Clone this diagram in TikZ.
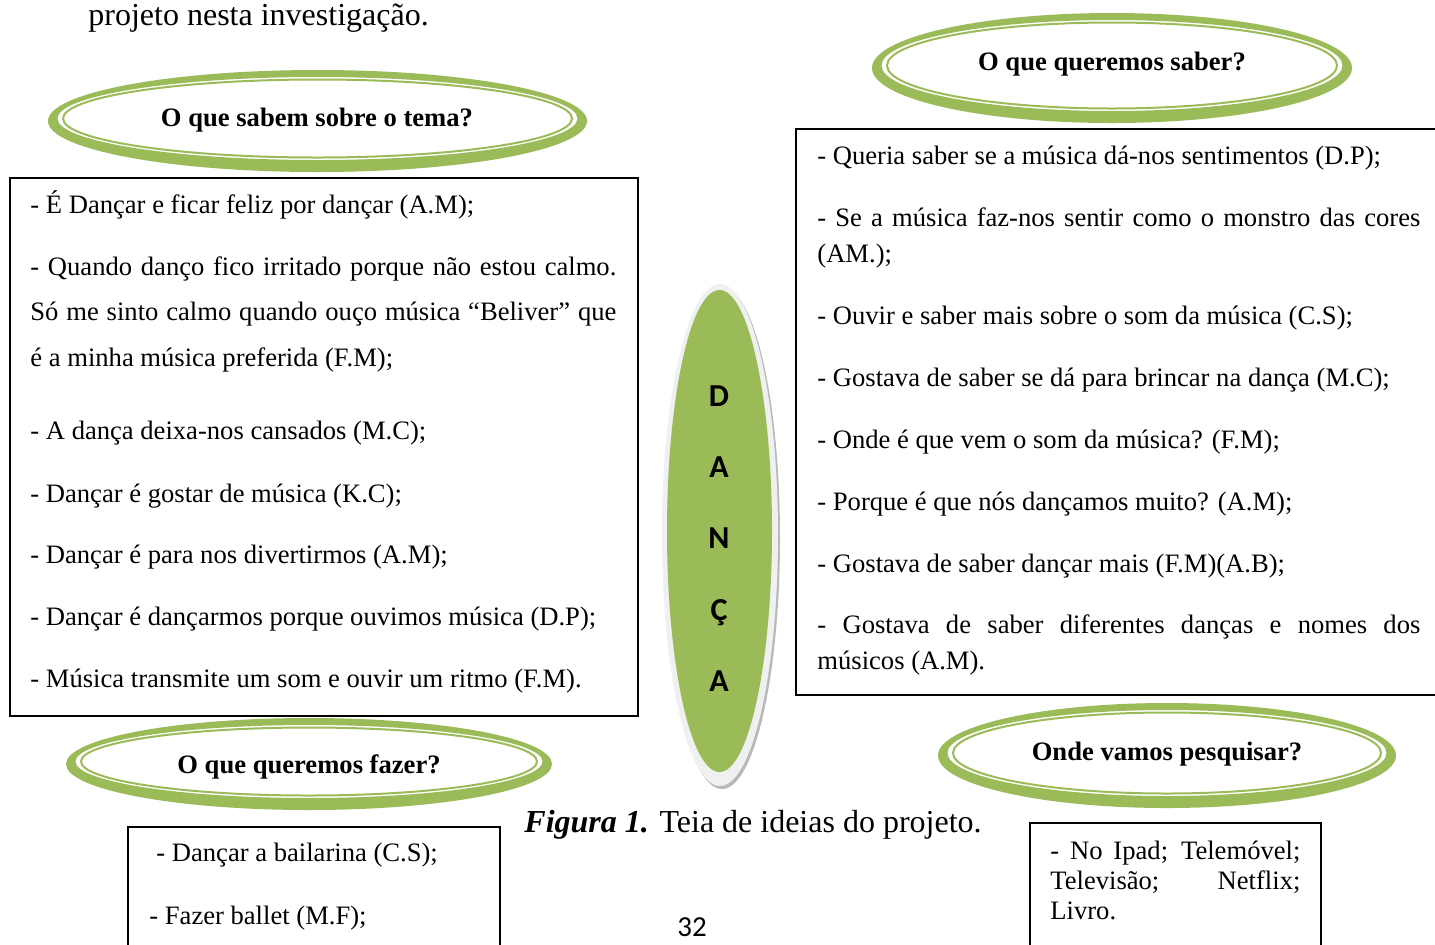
\documentclass[tikz,border=0pt]{standalone}
\usepackage{fontspec}
\setmainfont{Liberation Serif}
\newfontfamily\calib{Carlito}
\definecolor{ringgreen}{HTML}{9BBB59}
\definecolor{ringgray}{HTML}{F0F0F0}
\definecolor{shadowgray}{HTML}{B8B8B8}
\begin{document}
\begin{tikzpicture}[x=0.5pt,y=-0.5pt,
  txt/.style={inner sep=0pt, anchor=base west, font=\fontsize{13.3}{15}\selectfont},
  ttl/.style={inner sep=0pt, anchor=base, font=\fontsize{13.3}{15}\selectfont\bfseries},
  big/.style={inner sep=0pt, anchor=base west, font=\fontsize{16}{18}\selectfont},
  letter/.style={inner sep=0pt, anchor=base, font=\fontsize{16}{18}\selectfont\calib\bfseries},
  boxline/.style={draw=black, line width=1pt},
  ringband/.style={fill=ringgreen, even odd rule},
  ringthin/.style={draw=ringgreen, line width=1pt},
]
\useasboundingbox (0,0) rectangle (1435,944);
\fill[white] (0,0) rectangle (1435,944);

% top line of running text
\node[big] (top) at (88,25) {projeto nesta investigação.};

% ---- ellipse 1
\path[ringband] (317.5,121) ellipse [x radius=269.5, y radius=51]
                (317.5,118.5) ellipse [x radius=260, y radius=41.5];
\draw[ringthin] (317.5,118.5) ellipse [x radius=254.5, y radius=39];
\node[ttl] (t1) at (317,126) {O que sabem sobre o tema?};

% ---- ellipse 2
\path[ringband] (1112,68) ellipse [x radius=240, y radius=55]
                (1112,65.5) ellipse [x radius=230.5, y radius=45.5];
\draw[ringthin] (1112,65.5) ellipse [x radius=225, y radius=43];
\node[ttl] (t2) at (1112,70) {O que queremos saber?};

% ---- ellipse 3
\path[ringband] (309,764) ellipse [x radius=243, y radius=46]
                (309,761.5) ellipse [x radius=233.5, y radius=36.5];
\draw[ringthin] (309,761.5) ellipse [x radius=228, y radius=34];
\node[ttl] (t3) at (309,773) {O que queremos fazer?};

% ---- ellipse 4
\path[ringband] (1167,755.5) ellipse [x radius=229, y radius=52.5]
                (1167,753) ellipse [x radius=219.5, y radius=43];
\draw[ringthin] (1167,753) ellipse [x radius=214, y radius=40.5];
\node[ttl] (t4) at (1167,760) {Onde vamos pesquisar?};

% ---- centre ellipse
\fill[shadowgray] (722,538) ellipse [x radius=58, y radius=251];
\fill[ringgray] (720,535) ellipse [x radius=58, y radius=251];
\fill[ringgreen] (719.5,531) ellipse [x radius=52.5, y radius=241];
\node[letter] (d1) at (719,406) {D};
\node[letter] (d2) at (719,477) {A};
\node[letter] (d3) at (719,548) {N};
\node[letter] (d4) at (719,620) {Ç};
\node[letter] (d5) at (719,691) {A};

% ---- box 1
\draw[boxline] (10,178) rectangle (638,716);
\node[txt] (a1) at (30,213) {- É Dançar e ficar feliz por dançar (A.M);};
\node[txt] (a2) at (30,275) {\makebox[293pt][s]{- Quando danço fico irritado porque não estou calmo.}};
\node[txt] (a3) at (30,320) {\makebox[293pt][s]{Só me sinto calmo quando ouço música “Beliver” que}};
\node[txt] (a4) at (30,366) {é a minha música preferida (F.M);};
\node[txt] (a5) at (30,439) {- A dança deixa-nos cansados (M.C);};
\node[txt] (a6) at (30,502) {- Dançar é gostar de música (K.C);};
\node[txt] (a7) at (30,563) {- Dançar é para nos divertirmos (A.M);};
\node[txt] (a8) at (30,625) {- Dançar é dançarmos porque ouvimos música (D.P);};
\node[txt] (a9) at (30,687) {- Música transmite um som e ouvir um ritmo (F.M).};

% ---- box 2 (runs off the right edge)
\draw[boxline] (1440,129) -- (796,129) -- (796,695) -- (1440,695);
\node[txt] (b1) at (817,164) {- Queria saber se a música dá-nos sentimentos (D.P);};
\node[txt] (b2) at (817,226) {\makebox[301.5pt][s]{- Se a música faz-nos sentir como o monstro das cores}};
\node[txt] (b3) at (817,262) {(AM.);};
\node[txt] (b4) at (817,324) {- Ouvir e saber mais sobre o som da música (C.S);};
\node[txt] (b5) at (817,386) {- Gostava de saber se dá para brincar na dança (M.C);};
\node[txt] (b6) at (817,448) {- Onde é que vem o som da música? (F.M);};
\node[txt] (b7) at (817,510) {- Porque é que nós dançamos muito? (A.M);};
\node[txt] (b8) at (817,572) {- Gostava de saber dançar mais (F.M)(A.B);};
\node[txt] (b9) at (817,633) {\makebox[301.5pt][s]{- Gostava de saber diferentes danças e nomes dos}};
\node[txt] (b10) at (817,669) {músicos (A.M).};

% ---- box 3 (runs off the bottom edge)
\draw[boxline] (128,950) -- (128,827) -- (500,827) -- (500,950);
\node[txt] (c1) at (156,861) {- Dançar a bailarina (C.S);};
\node[txt] (c2) at (149,924) {- Fazer ballet (M.F);};

% ---- box 4 (runs off the bottom edge)
\draw[boxline] (1030,950) -- (1030,823) -- (1321,823) -- (1321,950);
\node[txt] (e1) at (1050,859) {\makebox[125pt][s]{- No Ipad; Telemóvel;}};
\node[txt] (e2) at (1050,889) {\makebox[125pt][s]{Televisão; Netflix;}};
\node[txt] (e3) at (1050,919) {Livro.};

% ---- caption and page number
\node[big] (cap) at (524,832) {\textbf{\textit{Figura 1.}} Teia de ideias do projeto.};
\node[inner sep=0pt, anchor=base, font=\fontsize{14.5}{16}\selectfont\calib] (pg) at (692,936) {32};
\end{tikzpicture}
\end{document}
